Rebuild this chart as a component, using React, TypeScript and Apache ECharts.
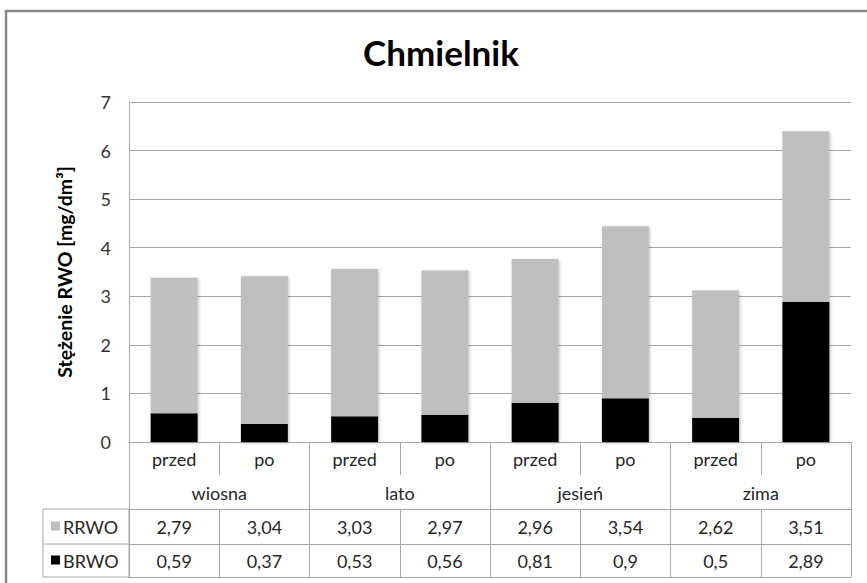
import React, { useEffect, useRef } from "react";
import * as echarts from "echarts";

// Categories: sampling moment (before / after) within each season
const subCategories = ["przed", "po", "przed", "po", "przed", "po", "przed", "po"];
const seasons = ["wiosna", "lato", "jesień", "zima"];
// RWO concentrations [mg/dm³]
const rrwo = [2.79, 3.04, 3.03, 2.97, 2.96, 3.54, 2.62, 3.51];
const brwo = [0.59, 0.37, 0.53, 0.56, 0.81, 0.9, 0.5, 2.89];
const yTicks = [0, 1, 2, 3, 4, 5, 6, 7];

const FONT = "Lato, 'Open Sans', sans-serif";
const GRID_LEFT = 129;
const GRID_RIGHT = 16;
const GRID_TOP = 102;
const GRID_BOTTOM = 141;
const LINE = "#a6a6a6";
const TEXT = "#262626";
const GRAY = "#bfbfbf";
const FS = 18;

const fmt = (v: number) => String(v).replace(".", ",");

export default function App() {
  const ref = useRef<HTMLDivElement>(null);

  useEffect(() => {
    if (!ref.current) return;
    const chart = echarts.init(ref.current, undefined, { renderer: "svg" });
    const W = 867;
    const H = 583;
    const axisY = H - GRID_BOTTOM; // y of the zero line
    const rowSub = 33;
    const rowSeason = 34;
    const rowVal = 35;
    const rowVal2 = 33;
    const yRRWO = axisY + rowSub + rowSeason;
    const yBRWO = yRRWO + rowVal;
    const yEnd = yBRWO + rowVal2;
    const legendLeft = 43;

    const labelStyle = { fontFamily: FONT, fontSize: FS, color: TEXT };

    chart.setOption({
      animation: false,
      backgroundColor: "#ffffff",
      title: {
        text: "Chmielnik",
        left: 436,
        textAlign: "center",
        top: 29,
        textStyle: { fontFamily: FONT, fontSize: 35, fontWeight: "bold", color: "#000" },
      },
      grid: { left: GRID_LEFT, right: GRID_RIGHT, top: GRID_TOP, bottom: GRID_BOTTOM },
      xAxis: [
        {
          type: "category",
          data: subCategories,
          position: "bottom",
          axisLine: { show: true, lineStyle: { color: LINE, width: 1 } },
          axisTick: { show: true, length: rowSub, interval: 0, lineStyle: { color: LINE } },
          axisLabel: { ...labelStyle, interval: 0, margin: 8 },
        },
        {
          type: "category",
          data: seasons,
          position: "bottom",
          axisLine: { show: false },
          axisTick: { show: true, length: rowSub + rowSeason, interval: 0, lineStyle: { color: LINE } },
          axisLabel: { ...labelStyle, interval: 0, margin: 42 },
        },
        {
          type: "category",
          data: rrwo.map(fmt),
          position: "bottom",
          offset: rowSub + rowSeason,
          axisLine: { show: true, lineStyle: { color: LINE } },
          axisTick: { show: true, length: rowVal, interval: 0, lineStyle: { color: LINE } },
          axisLabel: { ...labelStyle, interval: 0, margin: 9 },
        },
        {
          type: "category",
          data: brwo.map(fmt),
          position: "bottom",
          offset: rowSub + rowSeason + rowVal,
          axisLine: { show: true, lineStyle: { color: LINE } },
          axisTick: { show: true, length: rowVal2, interval: 0, lineStyle: { color: LINE } },
          axisLabel: { ...labelStyle, interval: 0, margin: 8 },
        },
        {
          type: "category",
          data: subCategories,
          position: "bottom",
          offset: rowSub + rowSeason + rowVal + rowVal2,
          axisLine: { show: true, lineStyle: { color: LINE } },
          axisTick: { show: false },
          axisLabel: { show: false },
        },
      ],
      yAxis: {
        type: "value",
        min: yTicks[0],
        max: yTicks[yTicks.length - 1],
        interval: 1,
        name: "Stężenie RWO [mg/dm³]",
        nameLocation: "middle",
        nameRotate: 90,
        nameGap: 55,
        nameTextStyle: { fontFamily: FONT, fontSize: 19.5, fontWeight: "bold", color: "#000" },
        axisLine: { show: true, lineStyle: { color: LINE } },
        axisTick: { show: false },
        axisLabel: { ...labelStyle, margin: 18, color: "#333" },
        splitLine: { show: true, lineStyle: { color: LINE, width: 1 } },
      },
      series: [
        {
          name: "BRWO",
          type: "bar",
          stack: "rwo",
          xAxisIndex: 0,
          data: brwo,
          barWidth: "52%",
          itemStyle: { color: "#000000", shadowBlur: 3, shadowColor: "rgba(0,0,0,0.25)", shadowOffsetX: 1, shadowOffsetY: 1 },
        },
        {
          name: "RRWO",
          type: "bar",
          stack: "rwo",
          xAxisIndex: 0,
          data: rrwo,
          barWidth: "52%",
          itemStyle: { color: GRAY, shadowBlur: 3, shadowColor: "rgba(0,0,0,0.25)", shadowOffsetX: 1, shadowOffsetY: 1 },
        },
      ],
      graphic: [
        // outer chart frame
        {
          type: "rect",
          shape: { x: 6, y: 11, width: W + 20, height: H + 20 },
          style: { fill: "none", stroke: "#8a8a8a", lineWidth: 2.5 },
          silent: true,
        },
        // legend column of the data table
        {
          type: "polyline",
          shape: { points: [[GRID_LEFT, yRRWO], [legendLeft, yRRWO], [legendLeft, yEnd], [GRID_LEFT, yEnd]] },
          style: { fill: "none", stroke: LINE, lineWidth: 1 },
          silent: true,
        },
        {
          type: "line",
          shape: { x1: legendLeft, y1: yBRWO, x2: GRID_LEFT, y2: yBRWO },
          style: { stroke: LINE, lineWidth: 1 },
          silent: true,
        },
        {
          type: "line",
          shape: { x1: GRID_LEFT, y1: yRRWO, x2: GRID_LEFT, y2: yEnd },
          style: { stroke: LINE, lineWidth: 1 },
          silent: true,
        },
        {
          type: "rect",
          shape: { x: legendLeft + 8, y: yRRWO + rowVal / 2 - 5, width: 9, height: 9 },
          style: { fill: GRAY },
          silent: true,
        },
        {
          type: "text",
          x: legendLeft + 20,
          y: yRRWO + rowVal / 2,
          style: { text: "RRWO", fontFamily: FONT, fontSize: FS, fill: TEXT, verticalAlign: "middle" },
          silent: true,
        },
        {
          type: "rect",
          shape: { x: legendLeft + 8, y: yBRWO + rowVal2 / 2 - 5, width: 9, height: 9 },
          style: { fill: "#000" },
          silent: true,
        },
        {
          type: "text",
          x: legendLeft + 20,
          y: yBRWO + rowVal2 / 2,
          style: { text: "BRWO", fontFamily: FONT, fontSize: FS, fill: TEXT, verticalAlign: "middle" },
          silent: true,
        },
      ],
    });

    return () => chart.dispose();
  }, []);

  return (
    <div
      ref={ref}
      style={{ position: "absolute", left: 0, top: 0, width: 867, height: 583, background: "#fff" }}
    />
  );
}
